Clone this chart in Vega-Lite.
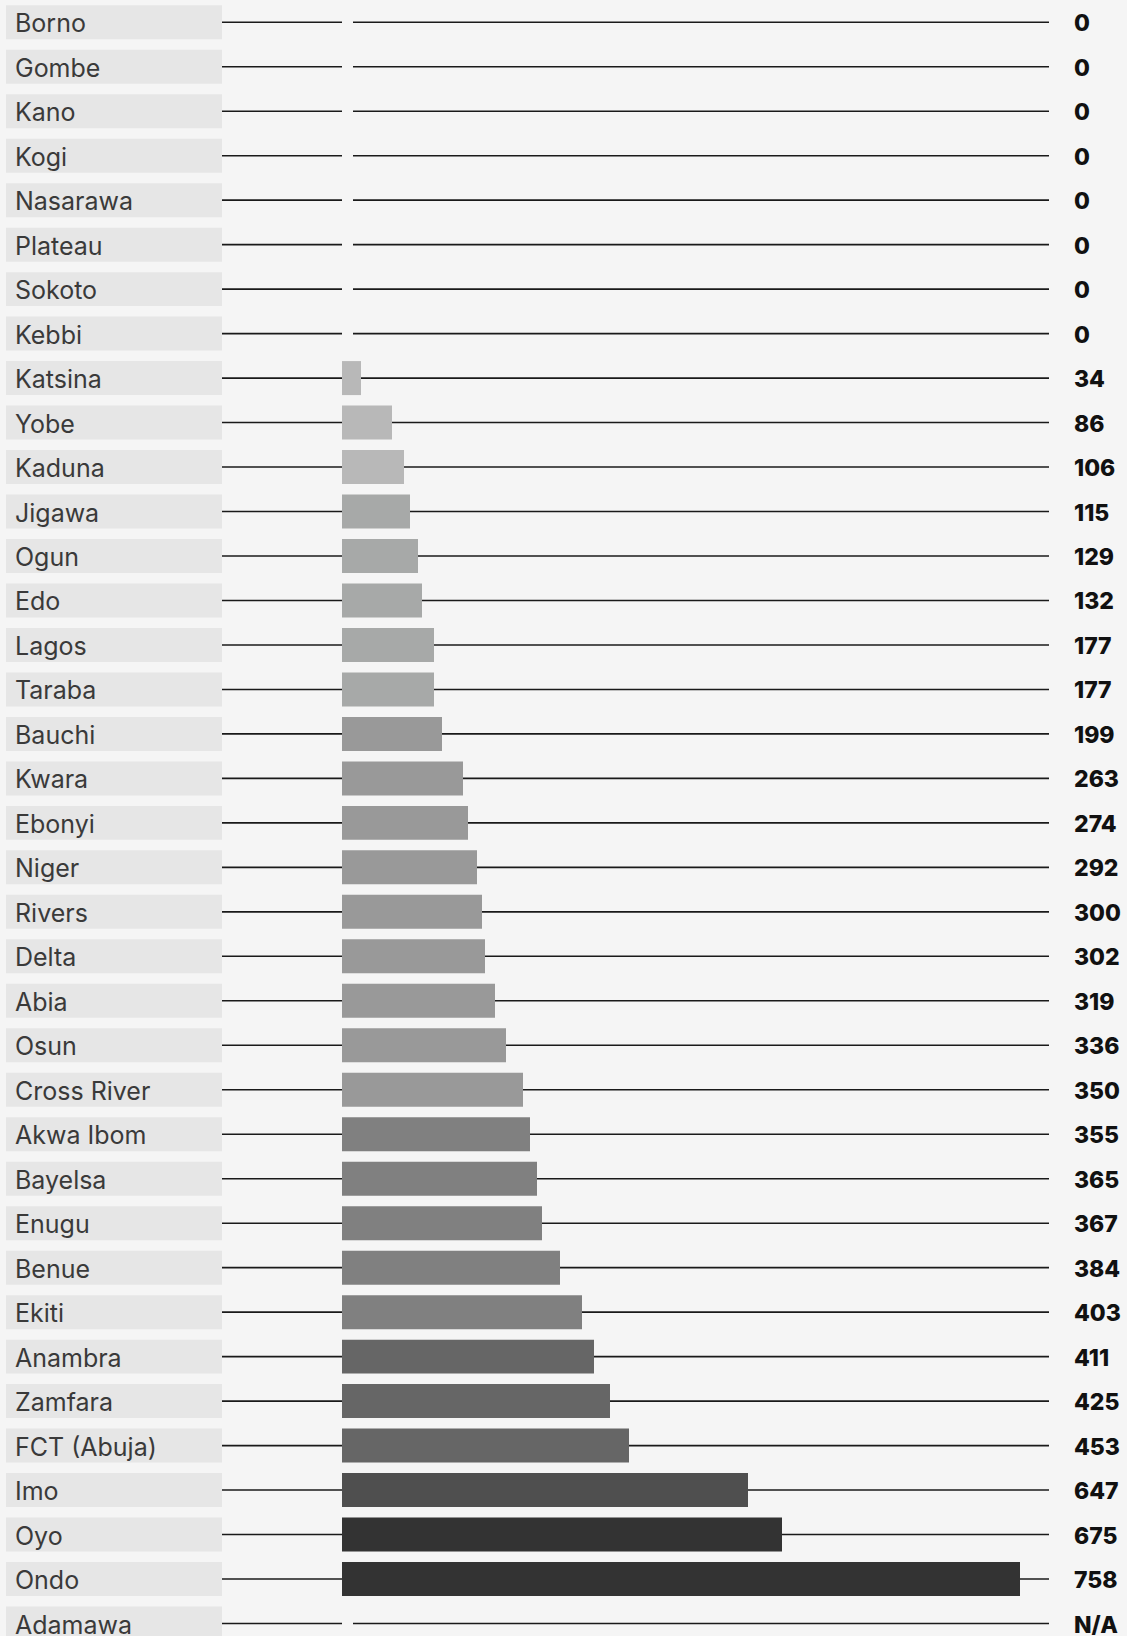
{
  "$schema": "https://vega.github.io/schema/vega-lite/v6.json",
  "width": 1127,
  "height": 1645.76,
  "autosize": {"type": "none"},
  "padding": 0,
  "background": "#f5f5f5",
  "config": {"view": {"stroke": null}},
  "data": {
    "values": [
      {"state": "Borno", "value": 0, "bar": 0},
      {"state": "Gombe", "value": 0, "bar": 0},
      {"state": "Kano", "value": 0, "bar": 0},
      {"state": "Kogi", "value": 0, "bar": 0},
      {"state": "Nasarawa", "value": 0, "bar": 0},
      {"state": "Plateau", "value": 0, "bar": 0},
      {"state": "Sokoto", "value": 0, "bar": 0},
      {"state": "Kebbi", "value": 0, "bar": 0},
      {"state": "Katsina", "value": 34, "bar": 19},
      {"state": "Yobe", "value": 86, "bar": 50},
      {"state": "Kaduna", "value": 106, "bar": 62},
      {"state": "Jigawa", "value": 115, "bar": 68},
      {"state": "Ogun", "value": 129, "bar": 76},
      {"state": "Edo", "value": 132, "bar": 80},
      {"state": "Lagos", "value": 177, "bar": 92},
      {"state": "Taraba", "value": 177, "bar": 92},
      {"state": "Bauchi", "value": 199, "bar": 100},
      {"state": "Kwara", "value": 263, "bar": 121},
      {"state": "Ebonyi", "value": 274, "bar": 126},
      {"state": "Niger", "value": 292, "bar": 135},
      {"state": "Rivers", "value": 300, "bar": 140},
      {"state": "Delta", "value": 302, "bar": 143},
      {"state": "Abia", "value": 319, "bar": 153},
      {"state": "Osun", "value": 336, "bar": 164},
      {"state": "Cross River", "value": 350, "bar": 181},
      {"state": "Akwa Ibom", "value": 355, "bar": 188},
      {"state": "Bayelsa", "value": 365, "bar": 195},
      {"state": "Enugu", "value": 367, "bar": 200},
      {"state": "Benue", "value": 384, "bar": 218},
      {"state": "Ekiti", "value": 403, "bar": 240},
      {"state": "Anambra", "value": 411, "bar": 252},
      {"state": "Zamfara", "value": 425, "bar": 268},
      {"state": "FCT (Abuja)", "value": 453, "bar": 287},
      {"state": "Imo", "value": 647, "bar": 406},
      {"state": "Oyo", "value": 675, "bar": 440},
      {"state": "Ondo", "value": 758, "bar": 678},
      {"state": "Adamawa", "value": null, "bar": null}
    ]
  },
  "transform": [
    {"calculate": "isValid(datum.value) ? format(datum.value, 'd') : 'N/A'", "as": "label"}
  ],
  "encoding": {
    "y": {
      "field": "state",
      "type": "nominal",
      "sort": null,
      "axis": null,
      "scale": {"paddingInner": 0.236, "paddingOuter": 0.118}
    }
  },
  "layer": [
    {
      "mark": {"type": "bar", "color": "#e6e6e6"},
      "encoding": {
        "x": {"datum": -336, "type": "quantitative", "axis": null, "scale": {"domain": [-342, 785], "nice": false, "zero": false}},
        "x2": {"datum": -120}
      }
    },
    {
      "mark": {"type": "rule", "color": "#1a1a1a", "strokeWidth": 1.6},
      "encoding": {
        "x": {"datum": -120, "type": "quantitative"},
        "x2": {"datum": 0}
      }
    },
    {
      "mark": {"type": "rule", "color": "#1a1a1a", "strokeWidth": 1.6},
      "encoding": {
        "x": {"datum": 11, "type": "quantitative"},
        "x2": {"datum": 707}
      }
    },
    {
      "mark": {"type": "bar"},
      "encoding": {
        "x": {"field": "bar", "type": "quantitative"},
        "x2": {"datum": 0},
        "color": {
          "field": "value",
          "type": "quantitative",
          "legend": null,
          "scale": {
            "type": "threshold",
            "domain": [110, 190, 352, 407, 500, 660],
            "range": ["#b8b8b8", "#a7a9a8", "#999999", "#808080", "#666666", "#4f4f4f", "#333333"]
          }
        }
      }
    },
    {
      "mark": {"type": "text", "align": "left", "baseline": "middle", "dy": 2, "font": "Inter", "fontSize": 25, "color": "#3a3a3a"},
      "encoding": {
        "x": {"datum": -327, "type": "quantitative"},
        "text": {"field": "state"}
      }
    },
    {
      "mark": {"type": "text", "align": "left", "baseline": "middle", "dy": 2, "font": "Inter", "fontSize": 23, "fontWeight": 800, "color": "#111111"},
      "encoding": {
        "x": {"datum": 732, "type": "quantitative"},
        "text": {"field": "label"}
      }
    }
  ]
}
